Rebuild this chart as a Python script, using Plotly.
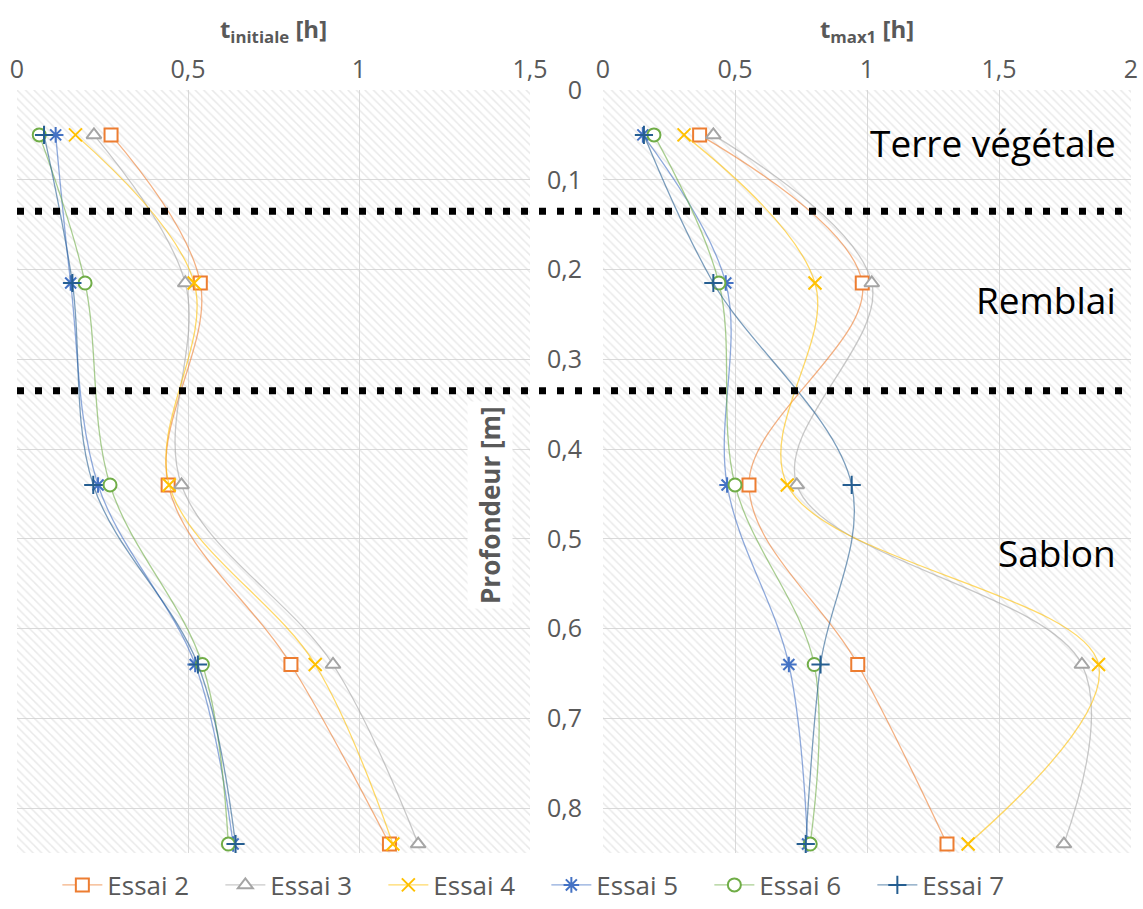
import plotly.graph_objects as go

W, H = 1143, 909

depth = [0.05, 0.215, 0.44, 0.64, 0.84]
series = ["Essai 2", "Essai 3", "Essai 4", "Essai 5", "Essai 6", "Essai 7"]

t_initiale = {
    "Essai 2": [0.275, 0.536, 0.442, 0.801, 1.089],
    "Essai 3": [0.225, 0.492, 0.481, 0.924, 1.173],
    "Essai 4": [0.171, 0.518, 0.445, 0.872, 1.099],
    "Essai 5": [0.113, 0.157, 0.237, 0.521, 0.632],
    "Essai 6": [0.065, 0.199, 0.272, 0.542, 0.618],
    "Essai 7": [0.079, 0.162, 0.223, 0.529, 0.639],
}
t_max1 = {
    "Essai 2": [0.366, 0.982, 0.553, 0.965, 1.303],
    "Essai 3": [0.418, 1.018, 0.734, 1.814, 1.746],
    "Essai 4": [0.307, 0.803, 0.698, 1.877, 1.383],
    "Essai 5": [0.151, 0.465, 0.470, 0.704, 0.775],
    "Essai 6": [0.193, 0.439, 0.500, 0.800, 0.785],
    "Essai 7": [0.155, 0.418, 0.942, 0.824, 0.768],
}
layer_limits = [0.135, 0.335]
layer_names = ["Terre végétale", "Remblai", "Sablon"]
layer_label_depth = [0.058, 0.233, 0.515]
y_ticks = [0, 0.1, 0.2, 0.3, 0.4, 0.5, 0.6, 0.7, 0.8]
x_ticks_left = [0, 0.5, 1, 1.5]
x_ticks_right = [0, 0.5, 1, 1.5, 2]
x_max_left, x_max_right, y_max = 1.5, 2.0, 0.85

colors = {
    "Essai 2": "#ED7D31", "Essai 3": "#A5A5A5", "Essai 4": "#FFC000",
    "Essai 5": "#4472C4", "Essai 6": "#70AD47", "Essai 7": "#255E91",
}
line_colors = {
    "Essai 2": "rgba(237,125,49,0.6)", "Essai 3": "rgba(165,165,165,0.6)",
    "Essai 4": "rgba(255,192,0,0.6)", "Essai 5": "rgba(68,114,196,0.6)",
    "Essai 6": "rgba(112,173,71,0.6)", "Essai 7": "rgba(37,94,145,0.6)",
}
symbols = {
    "Essai 2": "square", "Essai 3": "triangle-up", "Essai 4": "x-thin-open",
    "Essai 5": "asterisk-open", "Essai 6": "circle", "Essai 7": "cross-thin-open",
}

FONT = "Open Sans"
GREY = "#595959"

fig = go.Figure()

# hatched plot backgrounds
for xa, ya, xm in [("x", "y", x_max_left), ("x2", "y2", x_max_right)]:
    fig.add_trace(go.Bar(
        x=[xm], y=[y_max / 2], width=[y_max], base=[0], orientation="h",
        xaxis=xa, yaxis=ya, showlegend=False, hoverinfo="skip",
        marker=dict(color="rgba(0,0,0,0)", line=dict(width=0),
                    pattern=dict(shape="\\", fgcolor="#d4d4d4", bgcolor="rgba(0,0,0,0)",
                                 size=6, solidity=0.25)),
    ))

for data, xa, ya, show in [(t_initiale, "x", "y", True), (t_max1, "x2", "y2", False)]:
    for s in series:
        filled = symbols[s] in ("square", "triangle-up", "circle")
        fig.add_trace(go.Scatter(
            x=data[s], y=depth, xaxis=xa, yaxis=ya, name=s, showlegend=show,
            mode="lines+markers",
            line=dict(color=line_colors[s], width=1.3, shape="spline", smoothing=1.0),
            marker=dict(symbol=symbols[s], size=13,
                        color="white" if filled else colors[s],
                        line=dict(color=colors[s], width=2)),
        ))

axis_common = dict(showgrid=True, gridcolor="#d9d9d9", gridwidth=1, zeroline=False,
                   showline=False, ticks="", automargin=False,
                   tickfont=dict(family=FONT, size=25, color=GREY))

fig.update_layout(
    width=W, height=H, margin=dict(l=0, r=0, t=0, b=0),
    paper_bgcolor="white", plot_bgcolor="white", separators=", ",
    barmode="overlay", hovermode=False,
    xaxis=dict(domain=[17 / W, 530 / W], range=[0, x_max_left], tickvals=x_ticks_left,
               side="top", anchor="y", ticklabelstandoff=6,
               title=dict(text="<b>t<sub>initiale</sub> [h]</b>", standoff=5,
                          font=dict(family=FONT, size=24, color=GREY)),
               **axis_common),
    yaxis=dict(domain=[1 - 853 / H, 1 - 90 / H], range=[y_max, 0], tickvals=y_ticks,
               showticklabels=False, anchor="x", **axis_common),
    xaxis2=dict(domain=[603 / W, 1131 / W], range=[0, x_max_right], tickvals=x_ticks_right,
                side="top", anchor="y2", ticklabelstandoff=6,
                title=dict(text="<b>t<sub>max1</sub> [h]</b>", standoff=5,
                           font=dict(family=FONT, size=24, color=GREY)),
                **axis_common),
    yaxis2=dict(domain=[1 - 853 / H, 1 - 90 / H], range=[y_max, 0], tickvals=y_ticks,
                anchor="x2", ticklabelstandoff=20, **axis_common),
    legend=dict(orientation="h", x=0.478, xanchor="center", y=1 - 885 / H, yanchor="middle",
                font=dict(family=FONT, size=26, color=GREY), bgcolor="rgba(0,0,0,0)",
                itemwidth=40, entrywidth=108, entrywidthmode="pixels",
                traceorder="normal"),
    showlegend=True,
)

# layer boundaries (dotted black)
for d in layer_limits:
    fig.add_shape(type="line", xref="paper", yref="y2", x0=17 / W, x1=1131 / W, y0=d, y1=d,
                  line=dict(color="black", width=7, dash="7px,11px"), layer="above")

# layer names
for name, d in zip(layer_names, layer_label_depth):
    fig.add_annotation(text=name, xref="x2", yref="y2", x=1.95, y=d, xanchor="right",
                       yanchor="middle", showarrow=False,
                       font=dict(family=FONT, size=37, color="black"))

# y-axis title
fig.add_annotation(text="<b>Profondeur [m]</b>", xref="paper", yref="paper",
                   x=490 / W, y=1 - 505 / H, textangle=-90, showarrow=False,
                   bgcolor="white", borderpad=4,
                   font=dict(family=FONT, size=26, color=GREY))

fig.write_html("out.html", config={"displayModeBar": False},
               post_script="document.body.style.margin='0px';")
